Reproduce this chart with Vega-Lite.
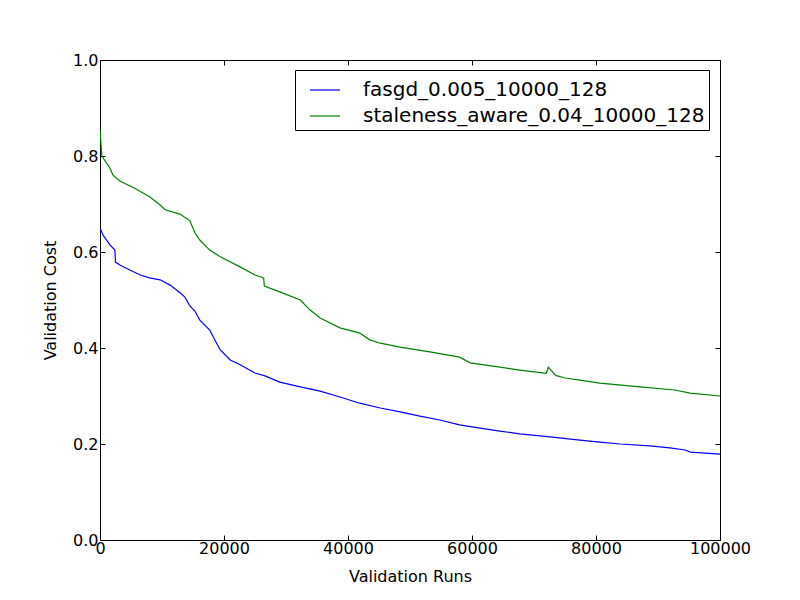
{
  "$schema": "https://vega.github.io/schema/vega-lite/v6.json",
  "width": 620,
  "height": 480,
  "autosize": {"type": "none"},
  "padding": {"left": 100, "top": 60, "right": 80, "bottom": 60},
  "background": "white",
  "config": {
    "font": "DejaVu Sans",
    "view": {"stroke": "black", "strokeWidth": 1},
    "axis": {
      "grid": false,
      "domain": false,
      "tickColor": "black",
      "tickSize": -5,
      "labelFlush": false,
      "labelFont": "DejaVu Sans",
      "labelFontSize": 16,
      "labelColor": "black",
      "titleFont": "DejaVu Sans",
      "titleFontSize": 16,
      "titleFontWeight": "normal",
      "titleColor": "black"
    }
  },
  "datasets": {
    "d": [
      {"run": 0, "cost": 0.65, "series": "fasgd_0.005_10000_128"},
      {"run": 500, "cost": 0.635, "series": "fasgd_0.005_10000_128"},
      {"run": 1600, "cost": 0.615, "series": "fasgd_0.005_10000_128"},
      {"run": 2400, "cost": 0.604, "series": "fasgd_0.005_10000_128"},
      {"run": 2500, "cost": 0.579, "series": "fasgd_0.005_10000_128"},
      {"run": 3200, "cost": 0.573, "series": "fasgd_0.005_10000_128"},
      {"run": 4800, "cost": 0.5625, "series": "fasgd_0.005_10000_128"},
      {"run": 6500, "cost": 0.552, "series": "fasgd_0.005_10000_128"},
      {"run": 8000, "cost": 0.546, "series": "fasgd_0.005_10000_128"},
      {"run": 9700, "cost": 0.542, "series": "fasgd_0.005_10000_128"},
      {"run": 11300, "cost": 0.531, "series": "fasgd_0.005_10000_128"},
      {"run": 12900, "cost": 0.515, "series": "fasgd_0.005_10000_128"},
      {"run": 13700, "cost": 0.506, "series": "fasgd_0.005_10000_128"},
      {"run": 14500, "cost": 0.4875, "series": "fasgd_0.005_10000_128"},
      {"run": 15300, "cost": 0.477, "series": "fasgd_0.005_10000_128"},
      {"run": 16100, "cost": 0.458, "series": "fasgd_0.005_10000_128"},
      {"run": 17700, "cost": 0.4375, "series": "fasgd_0.005_10000_128"},
      {"run": 18500, "cost": 0.417, "series": "fasgd_0.005_10000_128"},
      {"run": 19400, "cost": 0.396, "series": "fasgd_0.005_10000_128"},
      {"run": 21000, "cost": 0.375, "series": "fasgd_0.005_10000_128"},
      {"run": 22600, "cost": 0.365, "series": "fasgd_0.005_10000_128"},
      {"run": 25000, "cost": 0.348, "series": "fasgd_0.005_10000_128"},
      {"run": 26600, "cost": 0.342, "series": "fasgd_0.005_10000_128"},
      {"run": 29000, "cost": 0.329, "series": "fasgd_0.005_10000_128"},
      {"run": 32300, "cost": 0.319, "series": "fasgd_0.005_10000_128"},
      {"run": 35500, "cost": 0.31, "series": "fasgd_0.005_10000_128"},
      {"run": 38700, "cost": 0.298, "series": "fasgd_0.005_10000_128"},
      {"run": 41900, "cost": 0.285, "series": "fasgd_0.005_10000_128"},
      {"run": 45200, "cost": 0.275, "series": "fasgd_0.005_10000_128"},
      {"run": 48400, "cost": 0.267, "series": "fasgd_0.005_10000_128"},
      {"run": 51600, "cost": 0.258, "series": "fasgd_0.005_10000_128"},
      {"run": 54800, "cost": 0.25, "series": "fasgd_0.005_10000_128"},
      {"run": 58000, "cost": 0.24, "series": "fasgd_0.005_10000_128"},
      {"run": 61300, "cost": 0.233, "series": "fasgd_0.005_10000_128"},
      {"run": 64500, "cost": 0.227, "series": "fasgd_0.005_10000_128"},
      {"run": 67700, "cost": 0.221, "series": "fasgd_0.005_10000_128"},
      {"run": 72600, "cost": 0.215, "series": "fasgd_0.005_10000_128"},
      {"run": 77400, "cost": 0.208, "series": "fasgd_0.005_10000_128"},
      {"run": 80600, "cost": 0.204, "series": "fasgd_0.005_10000_128"},
      {"run": 83900, "cost": 0.2, "series": "fasgd_0.005_10000_128"},
      {"run": 88700, "cost": 0.196, "series": "fasgd_0.005_10000_128"},
      {"run": 91900, "cost": 0.192, "series": "fasgd_0.005_10000_128"},
      {"run": 94400, "cost": 0.1875, "series": "fasgd_0.005_10000_128"},
      {"run": 95200, "cost": 0.183, "series": "fasgd_0.005_10000_128"},
      {"run": 100000, "cost": 0.179, "series": "fasgd_0.005_10000_128"},
      {"run": 0, "cost": 0.854, "series": "staleness_aware_0.04_10000_128"},
      {"run": 300, "cost": 0.8, "series": "staleness_aware_0.04_10000_128"},
      {"run": 1600, "cost": 0.775, "series": "staleness_aware_0.04_10000_128"},
      {"run": 2100, "cost": 0.76, "series": "staleness_aware_0.04_10000_128"},
      {"run": 3200, "cost": 0.748, "series": "staleness_aware_0.04_10000_128"},
      {"run": 5600, "cost": 0.733, "series": "staleness_aware_0.04_10000_128"},
      {"run": 8000, "cost": 0.715, "series": "staleness_aware_0.04_10000_128"},
      {"run": 9700, "cost": 0.698, "series": "staleness_aware_0.04_10000_128"},
      {"run": 10500, "cost": 0.688, "series": "staleness_aware_0.04_10000_128"},
      {"run": 12900, "cost": 0.679, "series": "staleness_aware_0.04_10000_128"},
      {"run": 14500, "cost": 0.665, "series": "staleness_aware_0.04_10000_128"},
      {"run": 15300, "cost": 0.64, "series": "staleness_aware_0.04_10000_128"},
      {"run": 16100, "cost": 0.625, "series": "staleness_aware_0.04_10000_128"},
      {"run": 17700, "cost": 0.604, "series": "staleness_aware_0.04_10000_128"},
      {"run": 19400, "cost": 0.59, "series": "staleness_aware_0.04_10000_128"},
      {"run": 22600, "cost": 0.569, "series": "staleness_aware_0.04_10000_128"},
      {"run": 25000, "cost": 0.552, "series": "staleness_aware_0.04_10000_128"},
      {"run": 26400, "cost": 0.546, "series": "staleness_aware_0.04_10000_128"},
      {"run": 26500, "cost": 0.529, "series": "staleness_aware_0.04_10000_128"},
      {"run": 29000, "cost": 0.517, "series": "staleness_aware_0.04_10000_128"},
      {"run": 32300, "cost": 0.5, "series": "staleness_aware_0.04_10000_128"},
      {"run": 33900, "cost": 0.479, "series": "staleness_aware_0.04_10000_128"},
      {"run": 35500, "cost": 0.4625, "series": "staleness_aware_0.04_10000_128"},
      {"run": 38700, "cost": 0.442, "series": "staleness_aware_0.04_10000_128"},
      {"run": 41900, "cost": 0.431, "series": "staleness_aware_0.04_10000_128"},
      {"run": 43500, "cost": 0.417, "series": "staleness_aware_0.04_10000_128"},
      {"run": 45200, "cost": 0.41, "series": "staleness_aware_0.04_10000_128"},
      {"run": 48400, "cost": 0.402, "series": "staleness_aware_0.04_10000_128"},
      {"run": 53200, "cost": 0.392, "series": "staleness_aware_0.04_10000_128"},
      {"run": 58000, "cost": 0.381, "series": "staleness_aware_0.04_10000_128"},
      {"run": 59700, "cost": 0.369, "series": "staleness_aware_0.04_10000_128"},
      {"run": 64500, "cost": 0.36, "series": "staleness_aware_0.04_10000_128"},
      {"run": 67700, "cost": 0.354, "series": "staleness_aware_0.04_10000_128"},
      {"run": 72000, "cost": 0.347, "series": "staleness_aware_0.04_10000_128"},
      {"run": 72300, "cost": 0.36, "series": "staleness_aware_0.04_10000_128"},
      {"run": 73500, "cost": 0.343, "series": "staleness_aware_0.04_10000_128"},
      {"run": 75000, "cost": 0.3375, "series": "staleness_aware_0.04_10000_128"},
      {"run": 77400, "cost": 0.333, "series": "staleness_aware_0.04_10000_128"},
      {"run": 80600, "cost": 0.327, "series": "staleness_aware_0.04_10000_128"},
      {"run": 87100, "cost": 0.319, "series": "staleness_aware_0.04_10000_128"},
      {"run": 92700, "cost": 0.3125, "series": "staleness_aware_0.04_10000_128"},
      {"run": 95200, "cost": 0.306, "series": "staleness_aware_0.04_10000_128"},
      {"run": 100000, "cost": 0.3, "series": "staleness_aware_0.04_10000_128"}
    ]
  },
  "data": {"name": "d"},
  "layer": [
    {
      "mark": {"type": "line", "strokeWidth": 1.2, "clip": true},
      "encoding": {
        "x": {"field": "run", "type": "quantitative", "title": "Validation Runs",
              "scale": {"domain": [0, 100000], "nice": false},
              "axis": {"orient": "bottom", "values": [0, 20000, 40000, 60000, 80000, 100000], "format": "d", "labelPadding": 5, "titlePadding": 12}},
        "y": {"field": "cost", "type": "quantitative", "title": "Validation Cost",
              "scale": {"domain": [0, 1], "nice": false},
              "axis": {"orient": "left", "values": [0, 0.2, 0.4, 0.6, 0.8, 1.0], "format": ".1f", "labelPadding": 7, "titlePadding": 14}},
        "color": {"field": "series", "type": "nominal", "title": null,
                  "scale": {"domain": ["fasgd_0.005_10000_128", "staleness_aware_0.04_10000_128"], "range": ["#0000ff", "#008000"]},
                  "legend": {
                    "orient": "none", "legendX": 195, "legendY": 10,
                    "symbolType": "stroke", "symbolSize": 900, "symbolStrokeWidth": 1.2,
                    "symbolOffset": 10,
                    "labelFont": "DejaVu Sans", "labelFontSize": 20, "labelColor": "black",
                    "labelLimit": 600, "labelOffset": 22, "rowPadding": 0,
                    "strokeColor": "black", "padding": 4, "fillColor": "white", "cornerRadius": 0
                  }}
      }
    },
    {
      "mark": {"type": "line", "strokeOpacity": 0},
      "encoding": {
        "x": {"field": "run", "type": "quantitative",
              "axis": {"orient": "top", "values": [0, 20000, 40000, 60000, 80000, 100000], "labels": false, "title": null}},
        "y": {"field": "cost", "type": "quantitative",
              "axis": {"orient": "right", "values": [0, 0.2, 0.4, 0.6, 0.8, 1.0], "labels": false, "title": null}},
        "detail": {"field": "series"}
      }
    }
  ],
  "resolve": {"axis": {"x": "independent", "y": "independent"}}
}
